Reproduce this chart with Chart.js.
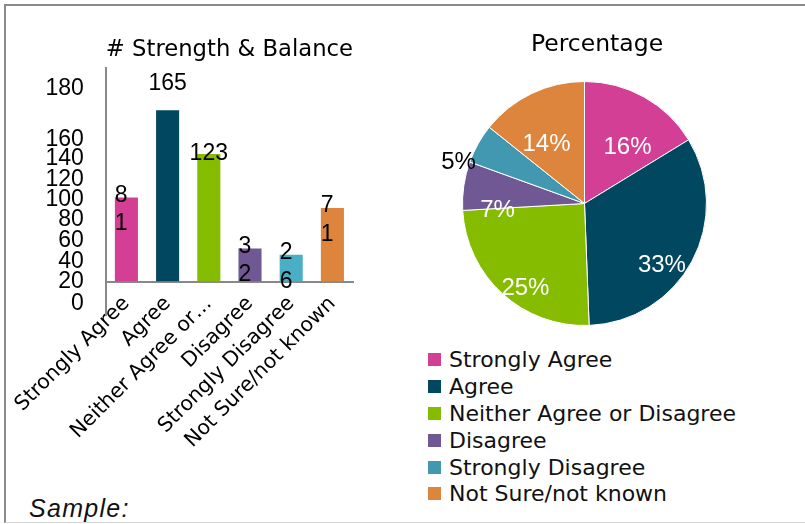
<!DOCTYPE html>
<html>
<head>
<meta charset="utf-8">
<script src="https://cdn.jsdelivr.net/npm/chart.js@4.4.1/dist/chart.umd.min.js"></script>
<style>
  html, body { margin: 0; padding: 0; background: #fff; }
  body { width: 805px; height: 524px; position: relative; overflow: hidden; }
  #frame {
    position: absolute; left: 4px; top: 4px; width: 800px; height: 516px;
    border-top: 2px solid #8a8a8a; border-left: 2px solid #8a8a8a; border-bottom: 1px solid #d6d6d6;
  }
  #barBox { position: absolute; left: 0; top: 0; width: 400px; height: 470px; }
  #pieBox { position: absolute; left: 405px; top: 0; width: 384px; height: 330px; }
  #pieTitle {
    position: absolute; left: 497px; top: 28px; width: 200px; text-align: center;
    font-family: "DejaVu Sans", sans-serif; font-size: 23.5px; line-height: 30px; color: #000;
  }
  #pieLegend {
    position: absolute; left: 428px; top: 346px;
    font-family: "DejaVu Sans", sans-serif; font-size: 22px; color: #111;
  }
  #pieLegend .row { height: 26.9px; display: flex; align-items: center; white-space: nowrap; }
  #pieLegend .swatch { width: 13px; height: 13px; margin-right: 8px; flex: none; }
  #sample {
    position: absolute; left: 29px; top: 496px;
    font-family: "Liberation Sans", Arial, sans-serif; font-style: italic; font-size: 25px;
    letter-spacing: 1.3px; line-height: 24px; color: #111;
  }
</style>
</head>
<body>
<div id="frame"></div>
<div id="barBox"><canvas id="barChart"></canvas></div>
<div id="pieBox"><canvas id="pieChart"></canvas></div>
<div id="pieTitle">Percentage</div>
<div id="pieLegend"></div>
<div id="sample">Sample:</div>
<script>
const categories = ['Strongly Agree', 'Agree', 'Neither Agree or Disagree', 'Disagree', 'Strongly Disagree', 'Not Sure/not known'];
const responses = [81, 165, 123, 32, 26, 71];
const barColors = ['#d43f96', '#00475f', '#86bc00', '#6f5893', '#4aaec7', '#dd853d'];
const pieColors = ['#d43f96', '#00475f', '#86bc00', '#6f5893', '#4298b0', '#dd853d'];

// y axis labels and the values they sit at
const yTickLabels = ['0', '20', '40', '60', '80', '100', '120', '140', '160', '180'];
const yTickValues = [-21, 0, 19, 40, 60, 79, 98, 118, 137, 186];

const numberFont = '"Liberation Sans", Arial, sans-serif';
const textFont = '"DejaVu Sans", sans-serif';

Chart.defaults.font.family = textFont;

// whole percentages that still add up to 100 (largest remainder)
function roundedShares(values) {
  const total = values.reduce((a, b) => a + b, 0);
  const raw = values.map(v => v / total * 100);
  const out = raw.map(Math.floor);
  let left = 100 - out.reduce((a, b) => a + b, 0);
  raw.map((r, i) => ({ i, rest: r - Math.floor(r) }))
    .sort((a, b) => b.rest - a.rest)
    .slice(0, left)
    .forEach(o => { out[o.i] += 1; });
  return out;
}

// value labels over the bars
const barValueLabels = {
  id: 'barValueLabels',
  afterDatasetsDraw(chart) {
    const ctx = chart.ctx;
    const meta = chart.getDatasetMeta(0);
    const highest = Math.max(...responses);
    ctx.save();
    ctx.fillStyle = '#000';
    ctx.font = '23px ' + numberFont;
    ctx.textBaseline = 'middle';
    meta.data.forEach((bar, i) => {
      const text = String(responses[i]);
      if (responses[i] === highest) {
        ctx.textAlign = 'center';
        ctx.fillText(text, bar.x, bar.y - 27);
      } else if (text.length < 3) {
        // short numbers wrap one digit per line from the bar's left edge
        ctx.textAlign = 'left';
        text.split('').forEach((d, k) => {
          ctx.fillText(d, bar.x - bar.width / 2, bar.y - 2 + k * 28.5);
        });
      } else {
        ctx.textAlign = 'center';
        ctx.fillText(text, bar.x, bar.y);
      }
    });
    ctx.restore();
  }
};

// percentage labels on the slices; they hang a little below their anchor
const pieShareLabels = {
  id: 'pieShareLabels',
  afterDatasetsDraw(chart) {
    const ctx = chart.ctx;
    const total = responses.reduce((a, b) => a + b, 0);
    const shares = roundedShares(responses);
    const drop = 20;
    ctx.save();
    ctx.font = '24px ' + numberFont;
    ctx.textBaseline = 'middle';
    chart.getDatasetMeta(0).data.forEach((arc, i) => {
      const mid = (arc.startAngle + arc.endAngle) / 2;
      const text = shares[i] + '%';
      if (responses[i] / total < 0.06) {
        const r = arc.outerRadius * 1.02;
        ctx.fillStyle = '#000';
        ctx.textAlign = 'right';
        ctx.fillText(text, arc.x + Math.cos(mid) * r, arc.y + Math.sin(mid) * r + drop);
      } else {
        const r = arc.outerRadius * 0.72;
        ctx.fillStyle = '#fff';
        ctx.textAlign = 'center';
        ctx.fillText(text, arc.x + Math.cos(mid) * r, arc.y + Math.sin(mid) * r + drop);
      }
    });
    ctx.restore();
  }
};

new Chart(document.getElementById('barChart'), {
  type: 'bar',
  data: {
    labels: categories,
    datasets: [{
      data: responses,
      backgroundColor: barColors,
      categoryPercentage: 1,
      barPercentage: 0.56
    }]
  },
  options: {
    responsive: true,
    maintainAspectRatio: false,
    animation: false,
    layout: { padding: { left: 0, right: 47, top: 0, bottom: 155 } },
    plugins: {
      legend: { display: false },
      tooltip: { enabled: false },
      title: {
        display: true,
        text: '# Strength & Balance',
        fullSize: false,
        color: '#000',
        font: { family: textFont, size: 23, weight: 'normal' },
        padding: { top: 36, bottom: 4 }
      }
    },
    scales: {
      x: {
        position: { y: 0 },
        grid: { drawOnChartArea: false, drawTicks: false },
        border: { color: '#888', width: 2 },
        ticks: {
          minRotation: 45,
          maxRotation: 45,
          autoSkip: false,
          padding: 10,
          color: '#000',
          font: { family: textFont, size: 20.5 },
          callback: function (value, index) {
            const name = categories[index];
            return name.length > 20 ? name.slice(0, 16) + '…' : name;
          }
        }
      },
      y: {
        min: -32,
        max: 206,
        afterBuildTicks: function (scale) {
          scale.ticks = yTickValues.map(v => ({ value: v }));
        },
        afterFit: function (scale) {
          scale.width = 105;
        },
        grid: { drawOnChartArea: false, drawTicks: false },
        border: { color: '#888', width: 2 },
        ticks: {
          autoSkip: false,
          padding: 22,
          color: '#000',
          font: { family: numberFont, size: 23 },
          callback: function (value, index) {
            return yTickLabels[index];
          }
        }
      }
    }
  },
  plugins: [barValueLabels]
});

new Chart(document.getElementById('pieChart'), {
  type: 'pie',
  data: {
    labels: categories,
    datasets: [{
      data: responses,
      backgroundColor: pieColors,
      borderColor: '#fff',
      borderWidth: 1
    }]
  },
  options: {
    responsive: true,
    maintainAspectRatio: false,
    animation: false,
    layout: { padding: { left: 0, right: 25, top: 81, bottom: 4 } },
    plugins: {
      legend: { display: false },
      tooltip: { enabled: false }
    }
  },
  plugins: [pieShareLabels]
});

// legend below the pie, one category per line
const legendBox = document.getElementById('pieLegend');
categories.forEach((name, i) => {
  const row = document.createElement('div');
  row.className = 'row';
  const swatch = document.createElement('span');
  swatch.className = 'swatch';
  swatch.style.background = pieColors[i];
  const label = document.createElement('span');
  label.textContent = name;
  row.append(swatch, label);
  legendBox.appendChild(row);
});
</script>
</body>
</html>
